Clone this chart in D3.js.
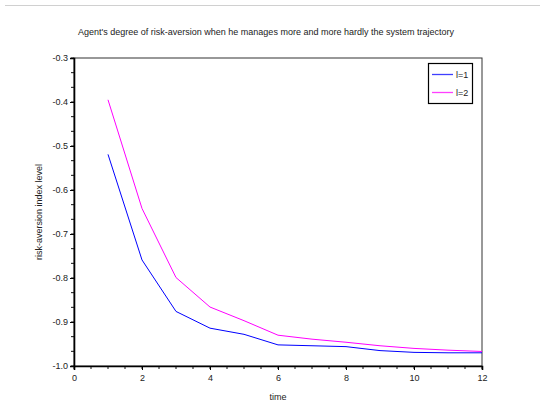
<!DOCTYPE html>
<html><head><meta charset="utf-8">
<script src="https://cdn.jsdelivr.net/npm/d3@7"></script>
<style>body{margin:0;background:#fff}svg{display:block}text{font-family:"Liberation Sans",Arial,sans-serif;fill:#222}</style>
</head><body><div id="chart"></div>
<script>
const times = [1,2,3,4,5,6,7,8,9,10,11,12];
const seriesL1 = [-0.519,-0.759,-0.876,-0.914,-0.928,-0.952,-0.954,-0.956,-0.965,-0.969,-0.970,-0.970];
const seriesL2 = [-0.395,-0.642,-0.799,-0.866,-0.897,-0.930,-0.939,-0.946,-0.954,-0.960,-0.964,-0.967];
const seriesNames = ["l=1","l=2"];
const seriesColors = ["#0000ff","#ff00ff"];
const xTicks = [0,2,4,6,8,10,12];
const yTicks = [-1.0,-0.9,-0.8,-0.7,-0.6,-0.5,-0.4,-0.3];
const title = "Agent's degree of risk-aversion when he manages more and more hardly the system trajectory";
const xLabel = "time";
const yLabel = "risk-aversion index level";

const W=545,H=414, L=74,R=482,T=58,B=366;
const svg=d3.select("#chart").append("svg").attr("width",W).attr("height",H);
const x=d3.scaleLinear().domain([0,12]).range([L,R]);
const y=d3.scaleLinear().domain([-1.0,-0.3]).range([B,T]);

svg.append("line").attr("x1",5).attr("x2",540).attr("y1",5.5).attr("y2",5.5).attr("stroke","#d0d0d0");

svg.append("text").attr("x",266).attr("y",35).attr("text-anchor","middle").attr("font-size",9).text(title);

svg.append("rect").attr("x",L).attr("y",T).attr("width",R-L).attr("height",B-T).attr("fill","none").attr("stroke","#333").attr("stroke-width",1);

const xMinor=d3.range(0,12.01,0.5);
svg.append("g").selectAll("line").data(xMinor).join("line")
 .attr("x1",d=>x(d)).attr("x2",d=>x(d)).attr("y1",B).attr("y2",B+3).attr("stroke","#111");
const yMinor=d3.range(0,21.01,1).map(i=>-1.0+i*0.1/3);
svg.append("g").selectAll("line").data(yMinor).join("line")
 .attr("x1",L-3).attr("x2",L).attr("y1",d=>y(d)).attr("y2",d=>y(d)).attr("stroke","#111");

const fmtY=d=>d3.format(".1f")(d).replace("\u2212","-");
const xa=svg.append("g").attr("transform",`translate(0,${B})`)
 .call(d3.axisBottom(x).tickValues(xTicks).tickFormat(d3.format("d")).tickSize(4).tickPadding(5));
const ya=svg.append("g").attr("transform",`translate(${L},0)`)
 .call(d3.axisLeft(y).tickValues(yTicks).tickFormat(fmtY).tickSize(4).tickPadding(2));
[xa,ya].forEach(a=>{a.select(".domain").attr("stroke","#000").attr("stroke-width",1.6);
 a.selectAll(".tick line").attr("stroke","#000");
 a.selectAll("text").attr("font-size",9).attr("fill","#222").attr("font-family","Liberation Sans, Arial, sans-serif");});

svg.append("text").attr("x",278).attr("y",400).attr("text-anchor","middle").attr("font-size",9).text(xLabel);
svg.append("text").attr("transform",`translate(42,212) rotate(-90)`).attr("text-anchor","middle").attr("font-size",9).text(yLabel);

const line=d3.line().x((d,i)=>x(times[i])).y(d=>y(d));
[seriesL1,seriesL2].forEach((s,k)=>{
 svg.append("path").datum(s).attr("d",line).attr("fill","none").attr("stroke",seriesColors[k]).attr("stroke-width",1);
});

const lg=svg.append("g");
lg.append("rect").attr("x",428.5).attr("y",63.5).attr("width",44).attr("height",40).attr("fill","#fff").attr("stroke","#000").attr("stroke-width",1.2);
seriesNames.forEach((n,k)=>{
 const yy=74.5+k*18;
 lg.append("line").attr("x1",432).attr("x2",453).attr("y1",yy).attr("y2",yy).attr("stroke",seriesColors[k]).attr("stroke-width",1.3).attr("opacity",0.75);
 lg.append("text").attr("x",456).attr("y",yy+3).attr("font-size",9).text(n);
});
</script></body></html>
